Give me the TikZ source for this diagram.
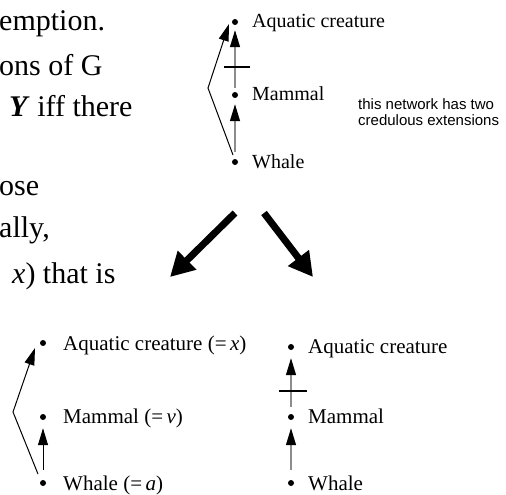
\documentclass[tikz,border=0pt]{standalone}
\usepackage{fontspec}
\setmainfont{Liberation Serif}
\newfontfamily\sansfam{Liberation Sans}
\usetikzlibrary{arrows.meta}
\definecolor{shaft}{RGB}{140,140,140}
\begin{document}
\begin{tikzpicture}[x=1pt,y=-1pt,
  dot/.style={circle,fill=black,inner sep=0pt,minimum size=6pt},
  lbl/.style={anchor=base west,inner sep=0pt,font=\fontsize{20}{22}\selectfont},
  lblb/.style={anchor=base west,inner sep=0pt,font=\fontsize{21}{23}\selectfont},
  body/.style={anchor=base west,inner sep=0pt,font=\fontsize{30}{32}\selectfont},
  note/.style={anchor=base west,inner sep=0pt,font=\sansfam\fontsize{15}{16}\selectfont},
  head/.style={-{Triangle[length=17pt,width=10pt,color=black]}},
  grayedge/.style={head,draw=shaft,line width=1.3pt},
  blackedge/.style={head,draw=black,line width=1pt},
  bar/.style={draw=black,line width=1.6pt},
  big/.style={line width=7pt,-{Triangle[length=24pt,width=25pt]}}]
\useasboundingbox (0,0) rectangle (506,495);
% left body text
\node[body] (t1) at (-1,31) {emption.};
\node[body] (t2) at (-1,75) {ons of G};
\node[body] (t3) at (9,116) {\textbf{\textit{Y}} iff there};
\node[body] (t4) at (-1,195) {ose};
\node[body] (t5) at (-1,237) {ally,};
\node[body] (t6) at (12,283) {\textit{x}) that is};
% top network
\node[dot] (A1) at (235,22) {};
\node[dot] (M1) at (235,95) {};
\node[dot] (W1) at (235,162) {};
\node[lbl] (lA1) at (252,28) {Aquatic creature};
\node[lbl] (lM1) at (252,100) {Mammal};
\node[lbl] (lW1) at (252,168) {Whale};
\draw[grayedge,shorten <=7pt,shorten >=6pt] (W1) -- (M1);
\draw[grayedge,shorten <=4pt,shorten >=5pt] (M1) -- (A1);
\coordinate (c1l) at (224,67);
\coordinate (c1r) at (250,67);
\draw[bar] (c1l) -- (c1r);
\coordinate (s1) at (233,155);
\coordinate (b1) at (208,88);
\coordinate (e1) at (229,24);
\draw[blackedge] (s1) -- (b1) -- (e1);
\node[note] (n1) at (358,109) {this network has two};
\node[note] (n2) at (358,125) {credulous extensions};
% big arrows
\coordinate (g1) at (235,213);
\coordinate (g2) at (170,277);
\coordinate (g3) at (264,213);
\coordinate (g4) at (313,277);
\draw[big] (g1) -- (g2);
\draw[big] (g3) -- (g4);
% bottom left
\node[dot] (A2) at (43,343) {};
\node[dot] (M2) at (43,417) {};
\node[dot] (W2) at (43,483) {};
\node[lblb] (lA2) at (63,350) {Aquatic creature (=\,\textit{x})};
\node[lblb] (lM2) at (63,423) {Mammal (=\,\textit{v})};
\node[lblb] (lW2) at (63,490) {Whale (=\,\textit{a})};
\draw[blackedge,shorten <=10pt,shorten >=8pt] (W2) -- (M2);
\coordinate (s2) at (38,474);
\coordinate (b2) at (13,412);
\coordinate (e2) at (35,348);
\draw[blackedge] (s2) -- (b2) -- (e2);
% bottom right
\node[dot] (A3) at (291,347) {};
\node[dot] (M3) at (291,417) {};
\node[dot] (W3) at (291,483) {};
\node[lblb] (lA3) at (308,353) {Aquatic creature};
\node[lblb] (lM3) at (308,423) {Mammal};
\node[lblb] (lW3) at (308,490) {Whale};
\draw[grayedge,shorten <=10pt,shorten >=8pt] (W3) -- (M3);
\draw[grayedge,shorten <=7pt,shorten >=8pt] (M3) -- (A3);
\coordinate (c3l) at (279,391);
\coordinate (c3r) at (307,391);
\draw[bar] (c3l) -- (c3r);
\end{tikzpicture}
\end{document}
